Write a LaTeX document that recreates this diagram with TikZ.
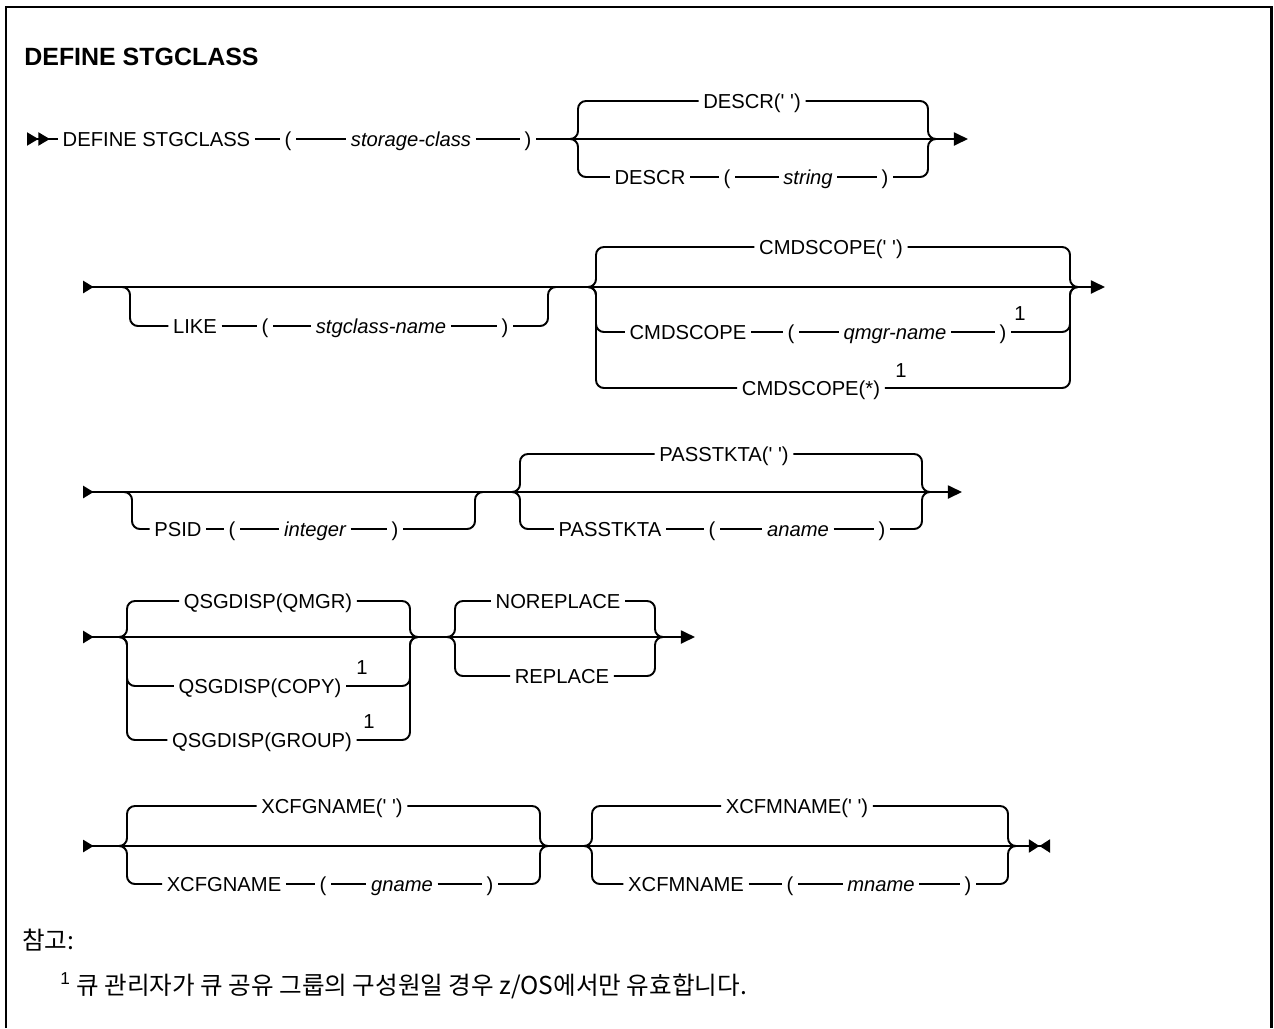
\documentclass[tikz,border=0pt]{standalone}
\usepackage{fontspec}
\usepackage{tikz}
\usetikzlibrary{arrows.meta}

\newfontfamily\ibm{Liberation Sans}
\newfontfamily\krfont{Noto Sans CJK KR}

\tikzset{
  rail/.style={line width=1.1pt, rounded corners=4.5pt},
  kw/.style={font=\ibm\fontsize{11.5}{13.5}\selectfont, inner xsep=2.5pt, inner ysep=0pt,
    text height=11pt, text depth=2.8pt},
  ital/.style={kw, font=\ibm\itshape\fontsize{11.5}{13.5}\selectfont},
  fnum/.style={font=\ibm\fontsize{11.5}{13.5}\selectfont, inner sep=0pt},
  >={Triangle[length=8pt,width=7.4pt]}
}

% one alternative of a choice: left turn, node(s), right turn
\newcommand\railalt[4]{%
  \draw[rail] ([xshift=-7pt]#1) -| (#1 |- #3) -- (#3);
  \draw[rail] (#4) -- (#2 |- #4) |- ([xshift=7pt]#2);}

\begin{document}
\begin{tikzpicture}[x=0.02cm, y=-0.02cm]
  \useasboundingbox (0,0) rectangle (1274,1028);
  \fill[white] (0,0) rectangle (1274,1028);
  \draw[line width=1.7pt] (6,1028) -- (6,7) -- (1271,7) -- (1271,1028);

  \node[anchor=base west, inner sep=0pt, font=\ibm\bfseries\fontsize{14.2}{17}\selectfont] (title) at (24,65) {DEFINE STGCLASS};

  % row 1
  \coordinate (s1) at (27,139);
  \coordinate (L1) at (578,139);
  \coordinate (R1) at (928,139);
  \coordinate (e1) at (968,139);
  \node[kw, anchor=west] (def) at (58,139) {DEFINE STGCLASS};
  \node[kw] (lp1) at (288,139) {(};
  \node[ital] (scl) at (411,139) {storage-class};
  \node[kw] (rp1) at (528,139) {)};
  \draw[rail, {Triangle[reversed,length=6.5pt,width=7.4pt]Triangle[reversed,length=6.5pt,width=7.4pt]}-] (s1) -- (def);
  \draw[rail] (def) -- (lp1) -- (scl) -- (rp1);
  \draw[rail, ->] (rp1) -- (e1);
  \node[kw] (dsd) at (752,101) {DESCR(' ')};
  \railalt{L1}{R1}{dsd}{dsd}
  \node[kw] (dsc) at (650,177) {DESCR};
  \node[kw] (lp2) at (727,177) {(};
  \node[ital] (str) at (808,177) {string};
  \node[kw] (rp2) at (885,177) {)};
  \draw[rail] (dsc) -- (lp2) -- (str) -- (rp2);
  \railalt{L1}{R1}{dsc}{rp2}

  % row 2
  \coordinate (s2) at (83,287);
  \coordinate (L2a) at (130,287);
  \coordinate (R2a) at (548,287);
  \coordinate (L2b) at (596,287);
  \coordinate (R2b) at (1070,287);
  \coordinate (e2) at (1105,287);
  \draw[rail, {Triangle[reversed,length=6pt,width=7pt]}->] (s2) -- (e2);
  \node[kw] (like) at (195,326) {LIKE};
  \node[kw] (lp3) at (265,326) {(};
  \node[ital] (sgn) at (381,326) {stgclass-name};
  \node[kw] (rp3) at (505,326) {)};
  \draw[rail] (like) -- (lp3) -- (sgn) -- (rp3);
  \railalt{L2a}{R2a}{like}{rp3}
  \node[kw] (cmd1) at (831,247) {CMDSCOPE(' ')};
  \railalt{L2b}{R2b}{cmd1}{cmd1}
  \node[kw] (cmd2) at (688,332) {CMDSCOPE};
  \node[kw] (lp4) at (791,332) {(};
  \node[ital] (qmn) at (895,332) {qmgr-name};
  \node[kw] (rp4) at (1003,332) {)};
  \node[fnum] (n1) at (1020,314) {1};
  \draw[rail] (cmd2) -- (lp4) -- (qmn) -- (rp4);
  \railalt{L2b}{R2b}{cmd2}{rp4}
  \node[kw] (cmd3) at (811,388) {CMDSCOPE(*)};
  \node[fnum] (n2) at (901,371) {1};
  \railalt{L2b}{R2b}{cmd3}{cmd3}

  % row 3
  \coordinate (s3) at (83,492);
  \coordinate (L3a) at (132,492);
  \coordinate (R3a) at (475,492);
  \coordinate (L3b) at (520,492);
  \coordinate (R3b) at (922,492);
  \coordinate (e3) at (962,492);
  \draw[rail, {Triangle[reversed,length=6pt,width=7pt]}->] (s3) -- (e3);
  \node[kw] (psid) at (178,529) {PSID};
  \node[kw] (lp5) at (232,529) {(};
  \node[ital] (int) at (315,529) {integer};
  \node[kw] (rp5) at (395,529) {)};
  \draw[rail] (psid) -- (lp5) -- (int) -- (rp5);
  \railalt{L3a}{R3a}{psid}{rp5}
  \node[kw] (pkd) at (724,454) {PASSTKTA(' ')};
  \railalt{L3b}{R3b}{pkd}{pkd}
  \node[kw] (pka) at (610,529) {PASSTKTA};
  \node[kw] (lp6) at (712,529) {(};
  \node[ital] (anm) at (798,529) {aname};
  \node[kw] (rp6) at (882,529) {)};
  \draw[rail] (pka) -- (lp6) -- (anm) -- (rp6);
  \railalt{L3b}{R3b}{pka}{rp6}

  % row 4
  \coordinate (s4) at (83,637);
  \coordinate (L4a) at (127,637);
  \coordinate (R4a) at (410,637);
  \coordinate (L4b) at (455,637);
  \coordinate (R4b) at (655,637);
  \coordinate (e4) at (695,637);
  \draw[rail, {Triangle[reversed,length=6pt,width=7pt]}->] (s4) -- (e4);
  \node[kw] (qmg) at (268,601) {QSGDISP(QMGR)};
  \railalt{L4a}{R4a}{qmg}{qmg}
  \node[kw] (cpy) at (260,686) {QSGDISP(COPY)};
  \node[fnum] (n3) at (362,668) {1};
  \railalt{L4a}{R4a}{cpy}{cpy}
  \node[kw] (grp) at (262,740) {QSGDISP(GROUP)};
  \node[fnum] (n4) at (369,722) {1};
  \railalt{L4a}{R4a}{grp}{grp}
  \node[kw] (nor) at (558,601) {NOREPLACE};
  \railalt{L4b}{R4b}{nor}{nor}
  \node[kw] (rep) at (562,676) {REPLACE};
  \railalt{L4b}{R4b}{rep}{rep}

  % row 5
  \coordinate (s5) at (83,846);
  \coordinate (L5a) at (127,846);
  \coordinate (R5a) at (540,846);
  \coordinate (L5b) at (592,846);
  \coordinate (R5b) at (1008,846);
  \coordinate (e5) at (1050,846);
  \draw[rail, {Triangle[reversed,length=6pt,width=7pt]}-{Triangle[length=6pt,width=7.4pt]Triangle[reversed,length=6pt,width=7.4pt]}] (s5) -- (e5);
  \node[kw] (xgd) at (332,806) {XCFGNAME(' ')};
  \railalt{L5a}{R5a}{xgd}{xgd}
  \node[kw] (xg) at (224,884) {XCFGNAME};
  \node[kw] (lp7) at (323,884) {(};
  \node[ital] (gnm) at (402,884) {gname};
  \node[kw] (rp7) at (490,884) {)};
  \draw[rail] (xg) -- (lp7) -- (gnm) -- (rp7);
  \railalt{L5a}{R5a}{xg}{rp7}
  \node[kw] (xmd) at (797,806) {XCFMNAME(' ')};
  \railalt{L5b}{R5b}{xmd}{xmd}
  \node[kw] (xm) at (686,884) {XCFMNAME};
  \node[kw] (lp8) at (790,884) {(};
  \node[ital] (mnm) at (881,884) {mname};
  \node[kw] (rp8) at (968,884) {)};
  \draw[rail] (xm) -- (lp8) -- (mnm) -- (rp8);
  \railalt{L5b}{R5b}{xm}{rp8}

  % notes
  \node[anchor=base west, inner sep=0pt, font=\krfont\fontsize{14}{17}\selectfont] (note) at (22,949) {참고:};
  \node[anchor=base west, inner sep=0pt, font=\krfont\fontsize{14}{17}\selectfont] (fn1) at (60,994) {{\ibm\textsuperscript{1}} 큐 관리자가 큐 공유 그룹의 구성원일 경우 z/OS에서만 유효합니다.};
\end{tikzpicture}
\end{document}
